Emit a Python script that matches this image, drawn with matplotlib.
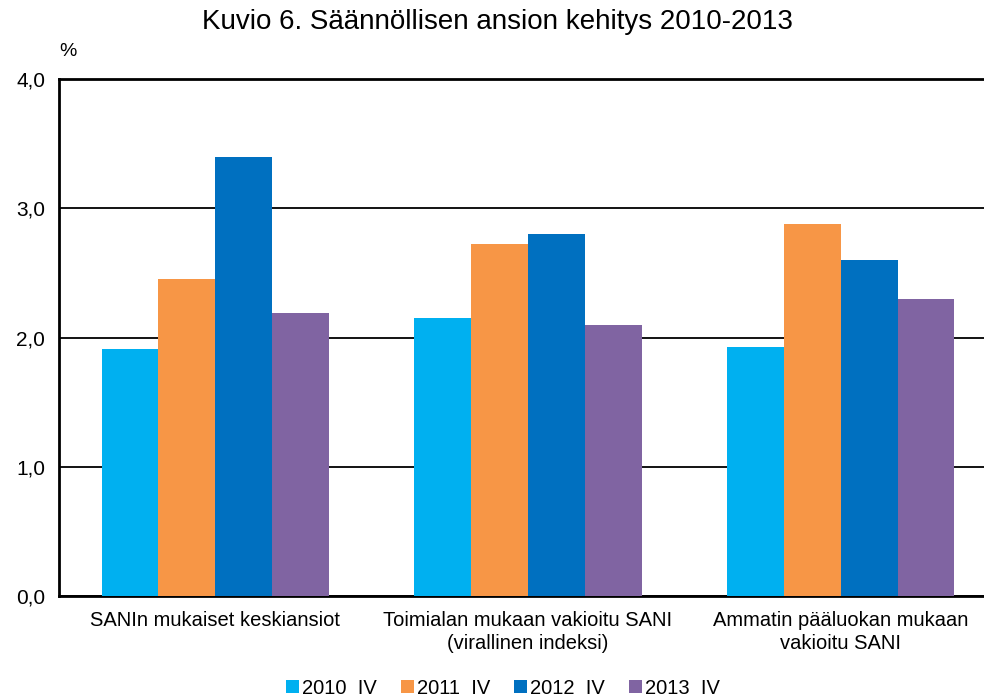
import matplotlib
matplotlib.use("Agg")
import matplotlib.pyplot as plt
import numpy as np

plt.rcParams['font.family'] = ['Liberation Sans', 'DejaVu Sans']

categories = ["SANIn mukaiset keskiansiot",
              "Toimialan mukaan vakioitu SANI\n(virallinen indeksi)",
              "Ammatin pääluokan mukaan\nvakioitu SANI"]
series = ["2010  IV", "2011  IV", "2012  IV", "2013  IV"]
values = {
    "2010  IV": [1.91, 2.15, 1.93],
    "2011  IV": [2.45, 2.72, 2.88],
    "2012  IV": [3.40, 2.80, 2.60],
    "2013  IV": [2.19, 2.10, 2.30],
}
colors = ["#00B0F0", "#F79646", "#0070C0", "#8064A2"]
yticks = [0.0, 1.0, 2.0, 3.0, 4.0]
yticklabels = ["0,0", "1,0", "2,0", "3,0", "4,0"]

fig = plt.figure(figsize=(9.84, 7.0), dpi=100)
ax = fig.add_axes([59/984, 1-596/700, 938/984, (596-79)/700])

x = np.arange(len(categories))
w = 0.182
for i, s in enumerate(series):
    ax.bar(x + (i - 1.5) * w, values[s], width=w, color=colors[i], label=s, zorder=3)

ax.set_xlim(-0.5, 2.5)
ax.set_ylim(0, 4)
ax.set_yticks(yticks)
ax.set_yticklabels(yticklabels, fontsize=15)
ax.set_xticks(x)
ax.set_xticklabels(categories, fontsize=14.5, linespacing=1.25)
ax.tick_params(axis='both', length=0)
ax.tick_params(axis='x', pad=11)
ax.tick_params(axis='y', pad=10)
ax.yaxis.grid(True, color='black', linewidth=1.3, zorder=0)
ax.set_axisbelow(True)
for side in ['left', 'top', 'bottom']:
    ax.spines[side].set_linewidth(2)
    ax.spines[side].set_color('black')
ax.spines['right'].set_visible(False)

fig.text(497/984, 1-22/700, "Kuvio 6. Säännöllisen ansion kehitys 2010-2013",
         fontsize=20, ha='center', va='center')
fig.text(68/984, 1-52/700, "%", fontsize=14, ha='center', va='center')

fig.legend(loc='center', bbox_to_anchor=(503/984, 1-688/700), ncol=4, frameon=False,
           fontsize=14.5, handlelength=0.65, handleheight=0.65, handletextpad=0.15,
           columnspacing=1.2)

fig.savefig("out.png", dpi=100)
